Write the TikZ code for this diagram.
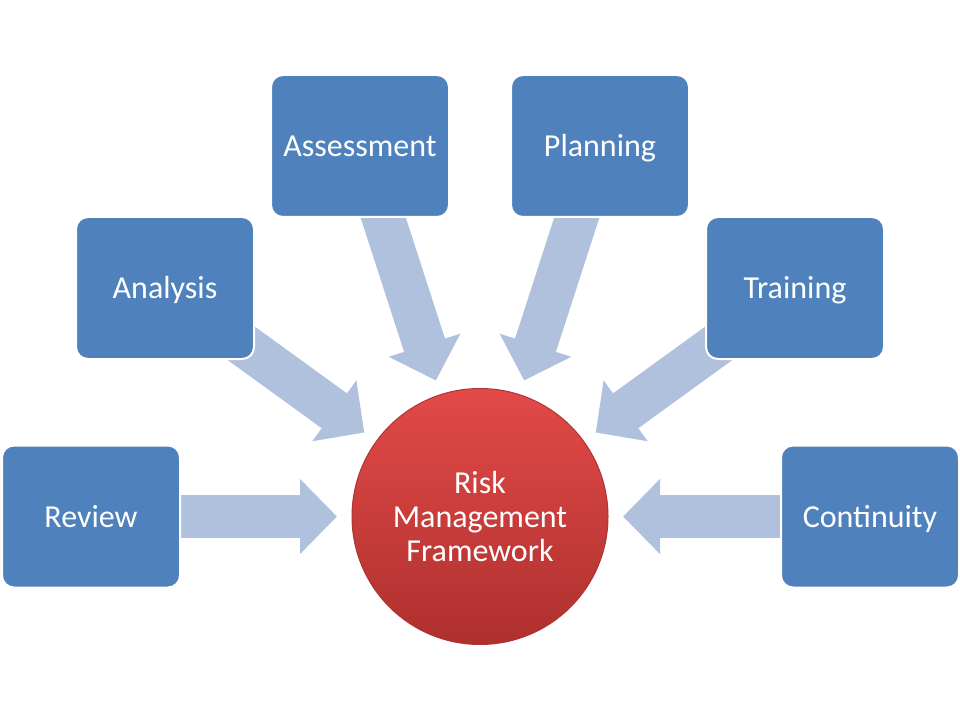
\documentclass[tikz,border=0pt]{standalone}
\usepackage{fontspec}
\setmainfont{Carlito}
\usetikzlibrary{arrows.meta,shadings}
\definecolor{boxblue}{HTML}{4F81BD}
\definecolor{arrowblue}{HTML}{B0C1DE}
\definecolor{hubtop}{HTML}{E24A48}
\definecolor{hubbot}{HTML}{AE302E}
\definecolor{hubrim}{HTML}{B03432}
\pgfdeclarelayer{background}
\pgfsetlayers{background,main}

\begin{document}
\begin{tikzpicture}[
    x=0.75pt, y=-0.75pt,
    every node/.style={font=\fontsize{24}{25.5}\selectfont, text=white},
    stage/.style={
        rectangle, rounded corners=9pt, fill=boxblue, draw=white,
        line width=1.5pt, minimum width=133.5pt, minimum height=106.5pt,
        inner sep=0pt, outer sep=0pt, text height=18pt, text depth=1.5pt
    },
    hub/.style={
        circle, minimum size=192pt, inner sep=0pt, outer sep=0pt,
        top color=hubtop, bottom color=hubbot, draw=hubrim,
        line width=0.75pt, align=center
    },
    feed/.style={
        arrowblue, line width=32.25pt,
        -{Triangle[width=54.75pt, length=27.75pt]}, shorten >=11.25pt
    }
]
\useasboundingbox (0,0) rectangle (960,720);

% centre of the radial
\node[hub] (hub) at (480,516.5) {Risk\\Management\\Framework};

% outer stages: name/label/x/y
\foreach \nm/\lab/\x/\y in {%
    rev/Review/91/516.5,
    ana/Analysis/165/288,
    ass/Assessment/360/146,
    pla/Planning/600/146,
    tra/Training/795/288,
    con/Continuity/870/516.5}
  \node[stage] (\nm) at (\x,\y) {\lab};

% block arrows, drawn under the boxes
\begin{pgfonlayer}{background}
  \fill[white] (0,0) rectangle (960,720);
  \foreach \src in {rev,ana,ass,pla,tra,con}
    \draw[feed] (\src.center) -- (hub);
\end{pgfonlayer}
\end{tikzpicture}
\end{document}
